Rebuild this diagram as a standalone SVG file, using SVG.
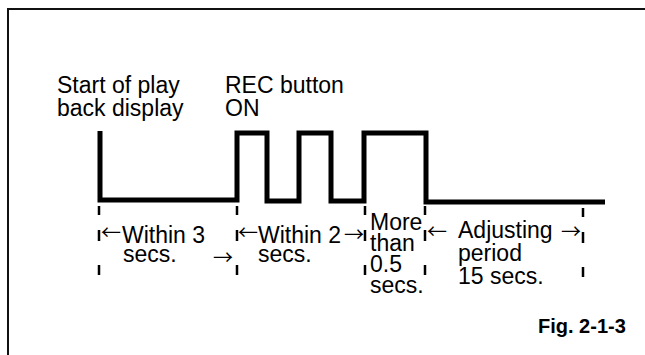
<svg xmlns="http://www.w3.org/2000/svg" width="645" height="355" viewBox="0 0 645 355">
<style>
text{font-family:"Liberation Sans",Arial,sans-serif;font-size:23px;fill:#000}
.ar{font-family:"Noto Sans CJK JP","DejaVu Sans",sans-serif;font-size:20px}
.fig{font-weight:bold;font-size:20px}
.wave{fill:none;stroke:#000;stroke-width:5;stroke-linejoin:miter}
.tick{stroke:#000;stroke-width:2.5;stroke-dasharray:9 15 11 24 10}
.frame{fill:none;stroke:#111;stroke-width:2}
</style>
<rect width="645" height="355" fill="#fff"/>
<path class="frame" d="M8,356 V9 H646"/>
<g id="waveform">
<path class="wave" d="M100,131 V200 H237 V133 H267 V201 H299 V133 H331 V201 H364 V133 H426 V202 H605"/>
</g>
<g id="ticks">
<line class="tick" x1="99" y1="206" x2="99" y2="276"/>
<line class="tick" x1="237" y1="206" x2="237" y2="276"/>
<line class="tick" x1="365" y1="206" x2="365" y2="276"/>
<line class="tick" x1="425" y1="206" x2="425" y2="276"/>
<line class="tick" x1="583" y1="208" x2="583" y2="278"/>
</g>
<g id="label-start">
<text><tspan x="57" y="93">Start of play</tspan><tspan x="57" y="116">back display</tspan></text>
</g>
<g id="label-rec">
<text><tspan x="225" y="93">REC button</tspan><tspan x="225" y="116">ON</tspan></text>
</g>
<g id="label-within3">
<text><tspan class="ar" x="101" y="240">←</tspan><tspan x="122" y="243">Within 3</tspan><tspan x="123" y="262">secs.</tspan><tspan class="ar" x="213" y="265">→</tspan></text>
</g>
<g id="label-within2">
<text><tspan class="ar" x="238" y="240">←</tspan><tspan x="258" y="243">Within 2</tspan><tspan class="ar" x="344" y="242">→</tspan><tspan x="258" y="262">secs.</tspan></text>
</g>
<g id="label-more">
<text><tspan x="370" y="230">More</tspan><tspan x="370" y="251">than</tspan><tspan x="370" y="272">0.5</tspan><tspan x="370" y="293">secs.</tspan></text>
</g>
<g id="label-adjusting">
<text><tspan class="ar" x="427" y="239">←</tspan><tspan x="458" y="238">Adjusting</tspan><tspan class="ar" x="561" y="239">→</tspan><tspan x="458" y="261">period</tspan><tspan x="458" y="284">15 secs.</tspan></text>
</g>
<g id="caption">
<text class="fig" x="538" y="333">Fig. 2-1-3</text>
</g>
</svg>
